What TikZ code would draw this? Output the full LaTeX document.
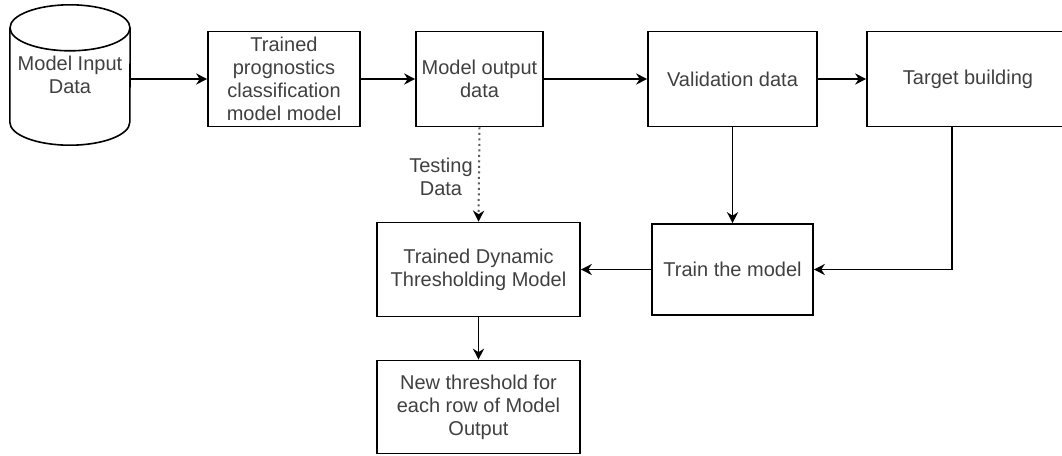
\documentclass[tikz,border=0pt]{standalone}
\usepackage{fontspec}
\setmainfont{Liberation Sans}
\usetikzlibrary{shapes,arrows.meta}
\tikzstyle{line} = [draw, line width=1.6pt, -{Stealth[length=11pt,width=11pt,inset=3.5pt]}]
\tikzstyle{block} = [rectangle, draw, line width=1.6pt, minimum height=95pt, align=center, text=black!75, font=\fontsize{20}{23}\selectfont, inner sep=0pt]
\tikzstyle{dbbox} = [rectangle, minimum width=120pt, minimum height=140pt, align=center, text=black!75, font=\fontsize{20}{23}\selectfont, inner sep=0pt]
\tikzstyle{lbl} = [align=center, text=black!75, font=\fontsize{20}{23}\selectfont]

\begin{document}
\begin{tikzpicture}[x=1pt, y=1pt]
		\useasboundingbox (0,0) rectangle (1062,-455);
		
		\node[dbbox] (input) at (70,-75) {Model Input\\Data};
		\draw [line width=1.6pt] ([yshift=-23pt]input.north) ellipse (60pt and 23pt);
		\draw [line width=1.6pt] ([yshift=-23pt]input.north west) -- ([yshift=23pt]input.south west) arc (180:360:60pt and 23pt) -- ([yshift=-23pt]input.north east);
		
		\node[block, minimum width=152pt] (prog) at (284,-79) {Trained\\prognostics\\classification\\model model};
		\node[block, minimum width=127pt, right of=prog, node distance=195.5pt] (out) {Model output\\data};
		\node[block, minimum width=169pt, right of=out, node distance=253pt] (valid) {Validation data};
		\node[block, minimum width=202pt, right of=valid, node distance=235.5pt] (target) {Target building};
		
		\path [line] (input.east|-prog.west) to (prog.west);
		\path [line] (prog.east) to (out.west);
		\path [line] (out.east) to (valid.west);
		\path [line] (valid.east) to (target.west);
		
		\node[block, minimum width=161pt, minimum height=91pt, below of=valid, node distance=190.5pt] (train) {Train the model};
		\node[block, minimum width=203pt, minimum height=94pt, left of=train, node distance=254pt] (thresh) {Trained Dynamic\\Thresholding Model};
		\node[block, minimum width=203pt, minimum height=93pt, below of=thresh, node distance=137.5pt] (newth) {New threshold for\\each row of Model\\Output};
		
		\path [line] (valid.south) to (train.north);
		\path [line] (target.south-|952,0) |- (train.east);
		\path [line] (train.west) to (thresh.east);
		\path [line, draw=black!65, line width=2pt, dash pattern=on 2pt off 3.5pt, -{Stealth[length=11pt,width=11pt,inset=3.5pt,black]}] (out.south) to node [lbl, left, pos=0.52, xshift=-2pt] {Testing\\Data} (thresh.north);
		\path [line] (thresh.south) to (newth.north);
	\end{tikzpicture}
\end{document}
